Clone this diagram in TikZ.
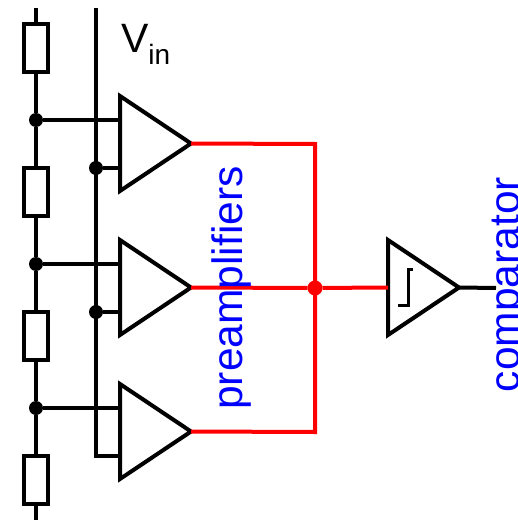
\documentclass[tikz,border=0pt]{standalone}
\usepackage{fontspec}
\setmainfont{Liberation Sans}
\usetikzlibrary{shapes.geometric}

\begin{document}
\begin{tikzpicture}[x=1pt,y=-1pt,line width=4pt,node distance=144pt]
    \tikzstyle{res}=[rectangle,draw,fill=white,outer sep=0pt,inner sep=0pt,minimum width=24pt,minimum height=48pt]
    \tikzstyle{amp}=[isosceles triangle,isosceles triangle apex angle=68,isosceles triangle stretches,draw,fill=white,outer sep=0pt,inner sep=0pt,minimum width=95pt,minimum height=71pt]
    \tikzstyle{dot}=[circle,fill=black,outer sep=0pt,inner sep=0pt,minimum size=14pt]
    \tikzstyle{reddot}=[circle,fill=red,outer sep=0pt,inner sep=0pt,minimum size=15pt]
    \tikzstyle{label}=[text=blue,font=\fontsize{42.5}{42.5}\selectfont,rotate=90,inner sep=0pt]
    \clip (0,0) rectangle (517,521);
    % ladder
    \node[res] at (36,48) (r1) {};
    \node[res,below of=r1] (r2) {};
    \node[res,below of=r2] (r3) {};
    \node[res,below of=r3] (r4) {};
    \coordinate (ladtop) at (36,8);
    \coordinate (ladbot) at (36,520);
    \node[dot] at (36,120) (tap1) {};
    \node[dot] at (36,264) (tap2) {};
    \node[dot] at (36,408) (tap3) {};
    % amplifiers
    \node[amp,anchor=lower side] at (120,143.5) (amp1) {};
    \node[amp,below of=amp1] (amp2) {};
    \node[amp,below of=amp2] (amp3) {};
    \node[amp,anchor=lower side] at (388,287.5) (comp) {};
    % input rail
    \coordinate (vintop) at (96,8);
    \coordinate (vinbot) at (96,456);
    \coordinate (vinend) at (120,456);
    \node[dot] at (96,168) (in1) {};
    \node[dot] at (96,312) (in2) {};
    \node[reddot] at (315,288) (sum) {};
    \coordinate (sumtop) at (315,144);
    \coordinate (sumbot) at (315,432);
    \coordinate (out) at (496,288);
    \draw (ladtop) -- (r1.north);
    \draw (r1.south) -- (tap1) -- (r2.north);
    \draw (r2.south) -- (tap2) -- (r3.north);
    \draw (r3.south) -- (tap3) -- (r4.north);
    \draw (r4.south) -- (ladbot);
    \draw (vintop) -- (vinbot) -- (vinend);
    \draw (tap1) -- (tap1 -| amp1.lower side);
    \draw (tap2) -- (tap2 -| amp2.lower side);
    \draw (tap3) -- (tap3 -| amp3.lower side);
    \draw (in1) -- (in1 -| amp1.lower side);
    \draw (in2) -- (in2 -| amp2.lower side);
    \draw[red] (amp1.apex) -- (sumtop) -- (sumbot) -- (amp3.apex);
    \draw[red] (amp2.apex) -- (sum) -- (comp.lower side);
    \draw (comp.apex) -- (out);
    \draw[line width=3pt] (398,305) -- (408,305) -- (408,269) -- (413,269);
    % texts
    \node[inner sep=0pt,anchor=base west,font=\fontsize{41}{41}\selectfont] at (119,53) (vin) {V\raisebox{-12pt}{\fontsize{28}{28}\selectfont in}};
    \node[label,anchor=base] at (242,288) (preamps) {preamplifiers};
    \node[label,anchor=base west] at (519,394) (cmp) {comparator};
  \end{tikzpicture}
\end{document}
